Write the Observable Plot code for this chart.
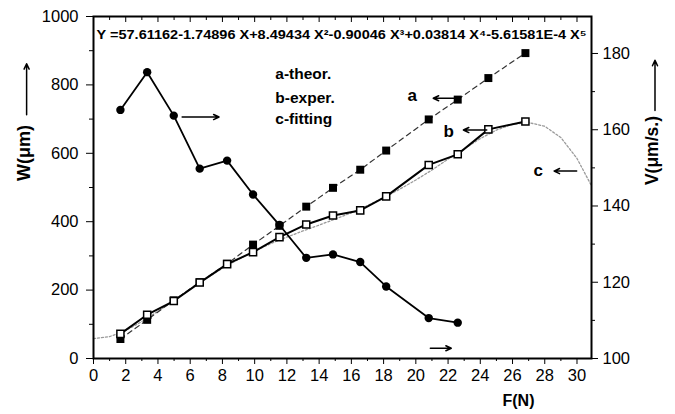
<!DOCTYPE html>
<html><head><meta charset="utf-8">
<script src="https://cdn.jsdelivr.net/npm/d3@7"></script>
<script src="https://cdn.jsdelivr.net/npm/@observablehq/plot@0.6"></script>
<style>body{margin:0;background:#fff}</style>
</head><body><div id="chart"></div>
<script>
// Force (N) for the W series
const forceW = [1.67,3.33,4.98,6.59,8.29,9.9,11.54,13.2,14.86,16.55,18.16,20.8,22.6,24.5,26.8];
// a - theoretical W (µm)
const wTheor = [57,113,170,223,277,333,388,444,499,552,608,699,757,820,893];
// b - experimental W (µm)
const wExper = [72,128,168,222,276,311,355,392,418,433,474,566,597,670,693];
// V series (µm/s), right axis
const forceV = [1.67,3.33,4.98,6.59,8.29,9.9,11.54,13.2,14.86,16.55,18.16,20.8,22.6];
const vSpeed = [165.2,175.1,163.7,149.8,151.9,143.0,135.0,126.4,127.3,125.3,118.9,110.6,109.4];
// c - fitting curve
const forceFit = [0,1,2,3,4,5,6,7,8,9,10,11,12,13,14,15,16,17,18,19,20,21,22,23,24,25,26,27,28,29,30,30.9];
const wFit = [58,64,82,108,138,170,203,234,264,290,314,336,355,373,390,408,426,447,470,495,522,551,583,613,643,668,685,690,679,646,585,505];
// ticks
const xTicks = [0,2,4,6,8,10,12,14,16,18,20,22,24,26,28,30];
const xMinor = [1,3,5,7,9,11,13,15,17,19,21,23,25,27,29];
const wTicks = [0,200,400,600,800,1000];
const wMinor = [100,300,500,700,900];
const vTicks = [100,120,140,160,180];
const vMinor = [110,130,150,170];
const equation = "Y =57.61162-1.74896 X+8.49434 X²-0.90046 X³+0.03814 X⁴-5.61581E-4 X⁵";
// legend text block (F, W positions)
const legendText = ["a-theor.","b-exper.","c-fitting"];
const legendF = [11.28,11.28,11.28];
const legendW = [833,763,699];
// curve letters
const letterText = ["a","b","c"];
const letterF = [19.77,22.04,27.6];
const letterW = [769,664,550];
// pointer arrows
const arrowF1 = [5.5,22.63,24.4,29.98,20.9];
const arrowF2 = [7.79,21.08,22.95,28.58,22.2];
const arrowW = [706,761,668,548,30];

const vMin = 100, vMax = 189.7;
const toW = v => (v - vMin) / (vMax - vMin) * 1000;
const fromW = w => vMin + w / 1000 * (vMax - vMin);

const dataA = forceW.map((f,i)=>({F:f, W:wTheor[i]}));
const dataB = forceW.map((f,i)=>({F:f, W:wExper[i]}));
const dataV = forceV.map((f,i)=>({F:f, V:vSpeed[i]}));
const dataC = forceFit.map((f,i)=>({F:f, W:wFit[i]}));
const legend = legendText.map((t,i)=>({t, F:legendF[i], W:legendW[i]}));
const letters = letterText.map((t,i)=>({t, F:letterF[i], W:letterW[i]}));
const arrows = arrowF1.map((f,i)=>({F1:f, F2:arrowF2[i], W:arrowW[i]}));

const plot = Plot.plot({
  width: 675, height: 414,
  marginLeft: 93, marginRight: 84, marginTop: 16, marginBottom: 56,
  style: {fontFamily: '"Liberation Sans", Arial, sans-serif', background: "#fff", color: "#000"},
  x: {domain: [0, 30.9]},
  y: {domain: [0, 1000]},
  marks: [
    Plot.line(dataC, {x:"F", y:"W", stroke:"#9a9a9a", strokeWidth:1.3, strokeDasharray:"2,2"}),
    Plot.line(dataA, {x:"F", y:"W", stroke:"#333", strokeWidth:1.2, strokeDasharray:"5,4"}),
    Plot.line(dataB, {x:"F", y:"W", stroke:"#000", strokeWidth:2}),
    Plot.line(dataV, {x:"F", y: d => toW(d.V), stroke:"#000", strokeWidth:1.8}),
    Plot.dot(dataV, {x:"F", y: d => toW(d.V), r:4.2, fill:"#000"}),
    Plot.dot(dataA, {x:"F", y:"W", symbol:"square", r:4.5, fill:"#000"}),
    Plot.dot(dataB, {x:"F", y:"W", symbol:"square", r:4, fill:"#fff", stroke:"#000", strokeWidth:1.5}),
    Plot.frame({stroke:"#000", strokeWidth:2}),
    Plot.axisX(xTicks, {tickSize:6, tickPadding:5, fontSize:16.5, label:null}),
    Plot.axisX(xMinor, {tickSize:3, text:null, label:null}),
    Plot.axisX(xTicks, {anchor:"top", tickSize:5, dy:5, text:null, label:null}),
    Plot.axisX(xMinor, {anchor:"top", tickSize:3, dy:3, text:null, label:null}),
    Plot.axisY(wTicks, {tickSize:7, tickPadding:8, fontSize:16.5, label:null, tickFormat: d => String(d)}),
    Plot.axisY(wMinor, {tickSize:4, text:null, label:null}),
    Plot.axisY(vTicks.map(toW), {anchor:"right", tickSize:6, tickPadding:5, fontSize:16.5, label:null, tickFormat: d => String(Math.round(fromW(d)))}),
    Plot.axisY(vMinor.map(toW), {anchor:"right", tickSize:3, text:null, label:null}),
    Plot.text([equation], {x:0.19, y:944, textAnchor:"start", fontSize:12, fontWeight:"bold"}),
    Plot.text(legend, {x:"F", y:"W", text:"t", fontSize:15.5, fontWeight:"bold", textAnchor:"start"}),
    Plot.text(letters, {x:"F", y:"W", text:"t", fontSize:17, fontWeight:"bold", textAnchor:"middle"}),
    Plot.arrow(arrows, {x1:"F1", x2:"F2", y1:"W", y2:"W", stroke:"#000", strokeWidth:1.5, headLength:6, headAngle:50}),
    Plot.text(["F(N)"], {x:26.37, y:-123, fontSize:16, fontWeight:"bold"}),
    Plot.text(["W(μm)"], {x:-4.3, y:601, rotate:-90, fontSize:18, fontWeight:"bold"}),
    Plot.arrow([0], {x1:-4.15, x2:-4.15, y1:713, y2:862, stroke:"#000", strokeWidth:1.5, headLength:6, headAngle:50}),
    Plot.text(["V(μm/s.)"], {x:34.66, y:608, rotate:-90, fontSize:17.5, fontWeight:"bold"}),
    Plot.arrow([0], {x1:34.84, x2:34.84, y1:725, y2:872, stroke:"#000", strokeWidth:1.5, headLength:6, headAngle:50})
  ]
});
document.getElementById("chart").appendChild(plot);
d3.select(plot).selectAll("text").filter(function(){ return this.textContent.startsWith("Y ="); })
  .attr("textLength", 490).attr("lengthAdjust", "spacingAndGlyphs");
</script>
</body></html>
